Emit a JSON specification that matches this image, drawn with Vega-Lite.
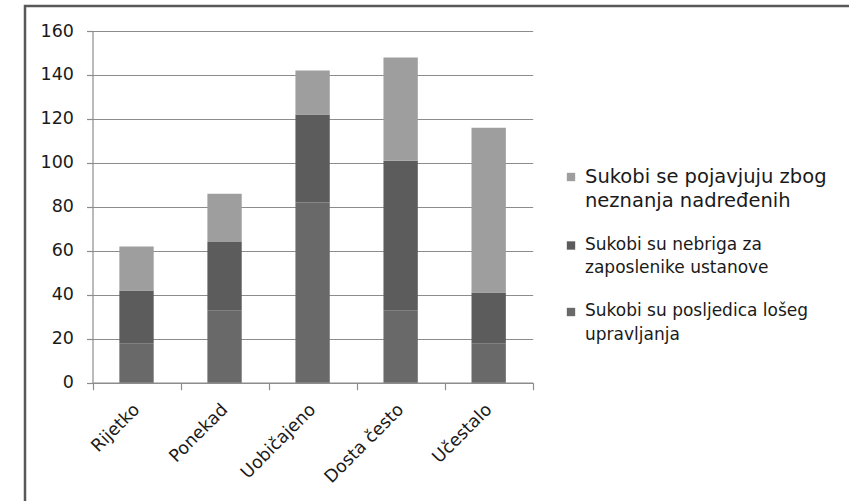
{
  "$schema": "https://vega.github.io/schema/vega-lite/v6.json",
  "autosize": "none",
  "padding": {"left": 25, "top": 6, "right": 0, "bottom": 0},
  "width": 830,
  "height": 500,
  "background": "white",
  "config": {
    "view": {"stroke": "#595959", "strokeWidth": 2.5},
    "font": "DejaVu Sans",
    "axis": {
      "labelFont": "DejaVu Sans",
      "labelFontSize": 17.5,
      "labelColor": "#1a1a1a",
      "domainColor": "#8c8c8c",
      "tickColor": "#8c8c8c",
      "gridColor": "#8c8c8c",
      "gridOpacity": 1,
      "domainWidth": 1.2,
      "tickWidth": 1.2,
      "gridWidth": 1.2,
      "title": null
    },
    "legend": {"labelFont": "DejaVu Sans", "labelColor": "#1a1a1a"}
  },
  "data": {
    "values": [
      {"cat": "Rijetko", "series": "Sukobi su posljedica lošeg upravljanja", "value": 18},
      {"cat": "Rijetko", "series": "Sukobi su nebriga za zaposlenike ustanove", "value": 24},
      {"cat": "Rijetko", "series": "Sukobi se pojavjuju zbog neznanja nadređenih", "value": 20},
      {"cat": "Ponekad", "series": "Sukobi su posljedica lošeg upravljanja", "value": 33},
      {"cat": "Ponekad", "series": "Sukobi su nebriga za zaposlenike ustanove", "value": 31},
      {"cat": "Ponekad", "series": "Sukobi se pojavjuju zbog neznanja nadređenih", "value": 22},
      {"cat": "Uobičajeno", "series": "Sukobi su posljedica lošeg upravljanja", "value": 82},
      {"cat": "Uobičajeno", "series": "Sukobi su nebriga za zaposlenike ustanove", "value": 40},
      {"cat": "Uobičajeno", "series": "Sukobi se pojavjuju zbog neznanja nadređenih", "value": 20},
      {"cat": "Dosta često", "series": "Sukobi su posljedica lošeg upravljanja", "value": 33},
      {"cat": "Dosta često", "series": "Sukobi su nebriga za zaposlenike ustanove", "value": 68},
      {"cat": "Dosta često", "series": "Sukobi se pojavjuju zbog neznanja nadređenih", "value": 47},
      {"cat": "Učestalo", "series": "Sukobi su posljedica lošeg upravljanja", "value": 18},
      {"cat": "Učestalo", "series": "Sukobi su nebriga za zaposlenike ustanove", "value": 23},
      {"cat": "Učestalo", "series": "Sukobi se pojavjuju zbog neznanja nadređenih", "value": 75}
    ]
  },
  "mark": {"type": "bar", "width": {"band": 0.39}},
  "encoding": {
    "x": {
      "field": "cat",
      "type": "nominal",
      "sort": null,
      "scale": {"range": [67.5, 507.7], "paddingInner": 0, "paddingOuter": 0},
      "axis": {
        "orient": "bottom",
        "offset": -123.3,
        "tickBand": "extent",
        "tickSize": 7,
        "labelAngle": -45,
        "labelAlign": "right",
        "labelBaseline": "middle",
        "labelPadding": 17,
        "grid": false
      }
    },
    "y": {
      "field": "value",
      "type": "quantitative",
      "stack": "zero",
      "scale": {"domain": [0, 160], "range": [376.7, 25], "nice": false},
      "axis": {
        "orient": "left",
        "offset": -67.5,
        "values": [0, 20, 40, 60, 80, 100, 120, 140, 160],
        "tickSize": 6,
        "labelPadding": 13,
        "grid": true
      }
    },
    "color": {
      "field": "series",
      "type": "nominal",
      "scale": {
        "domain": [
          "Sukobi se pojavjuju zbog neznanja nadređenih",
          "Sukobi su nebriga za zaposlenike ustanove",
          "Sukobi su posljedica lošeg upravljanja"
        ],
        "range": ["#9e9e9e", "#5c5c5c", "#696969"]
      },
      "legend": {
        "title": null,
        "orient": "none",
        "legendX": 541,
        "legendY": 166,
        "symbolType": "square",
        "symbolSize": 70,
        "symbolStrokeWidth": 0,
        "labelOffset": 9,
        "labelLimit": 400,
        "labelBaseline": "top",
        "rowPadding": 25.5,
        "labelExpr": "[slice(datum.label, 0, lastindexof(slice(datum.label, 0, 27), ' ')), slice(datum.label, lastindexof(slice(datum.label, 0, 27), ' ') + 1)]",
        "encode": {
          "labels": {
            "update": {
              "fontSize": [
                {"test": "indexof(datum.value, 'neznanja') >= 0", "value": 19.5},
                {"value": 17}
              ],
              "lineHeight": {"value": 23.5},
              "dy": {"value": -9}
            }
          }
        }
      }
    },
    "order": {"field": "series", "sort": "descending"}
  }
}
